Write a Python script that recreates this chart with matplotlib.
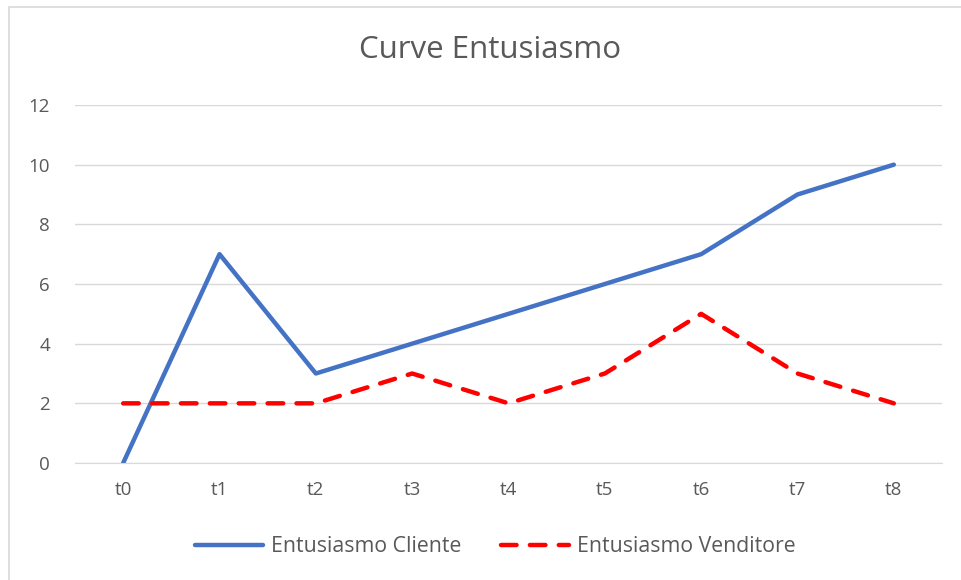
import matplotlib
matplotlib.use("Agg")
import matplotlib.pyplot as plt
from matplotlib.patches import Rectangle

categories = ["t0", "t1", "t2", "t3", "t4", "t5", "t6", "t7", "t8"]
cliente = [0, 7, 3, 4, 5, 6, 7, 9, 10]
venditore = [2, 2, 2, 3, 2, 3, 5, 3, 2]
yticks = [0, 2, 4, 6, 8, 10, 12]

plt.rcParams['font.family'] = ['Open Sans', 'DejaVu Sans']
W, H = 962, 580
fig = plt.figure(figsize=(W / 100, H / 100), dpi=100)
fig.patches.append(Rectangle((9 / W, -0.1), 1.2, 1 - 7 / H + 0.1, transform=fig.transFigure,
                             fill=False, edgecolor="#d9d9d9", linewidth=1.2))

ax = fig.add_axes([75 / W, 1 - 463 / H, 867 / W, (463 - 105) / H])
x = list(range(len(categories)))
ax.plot(x, cliente, color="#4472C4", linewidth=3.2, solid_capstyle="round", label="Entusiasmo Cliente")
ax.plot(x, venditore, color="#FF0000", linewidth=3.2, linestyle=(0, (3.5, 3)), dash_capstyle="round",
        label="Entusiasmo Venditore")
ax.set_xlim(-0.5, len(categories) - 0.5)
ax.set_ylim(0, 12)
ax.set_xticks(x)
ax.set_xticklabels(categories)
ax.set_yticks(yticks)
ax.grid(axis="y", color="#d9d9d9", linewidth=1)
ax.set_axisbelow(True)
for s in ["top", "right", "left"]:
    ax.spines[s].set_visible(False)
ax.spines["bottom"].set_color("#d9d9d9")
ax.tick_params(axis="both", length=0, colors="#595959", labelsize=13.5)
ax.tick_params(axis="x", pad=13)
ax.tick_params(axis="y", pad=18)
fig.text(490 / W, 1 - 50 / H, "Curve Entusiasmo", ha="center", va="center", fontsize=22.5, color="#595959")
leg = fig.legend(loc="center", bbox_to_anchor=(495 / W, 1 - 547 / H), ncol=2, frameon=False,
                 fontsize=15.3, handlelength=3.2, columnspacing=1.85, handletextpad=0.38)
for t in leg.get_texts():
    t.set_color("#595959")
fig.savefig("out.png", dpi=100)
